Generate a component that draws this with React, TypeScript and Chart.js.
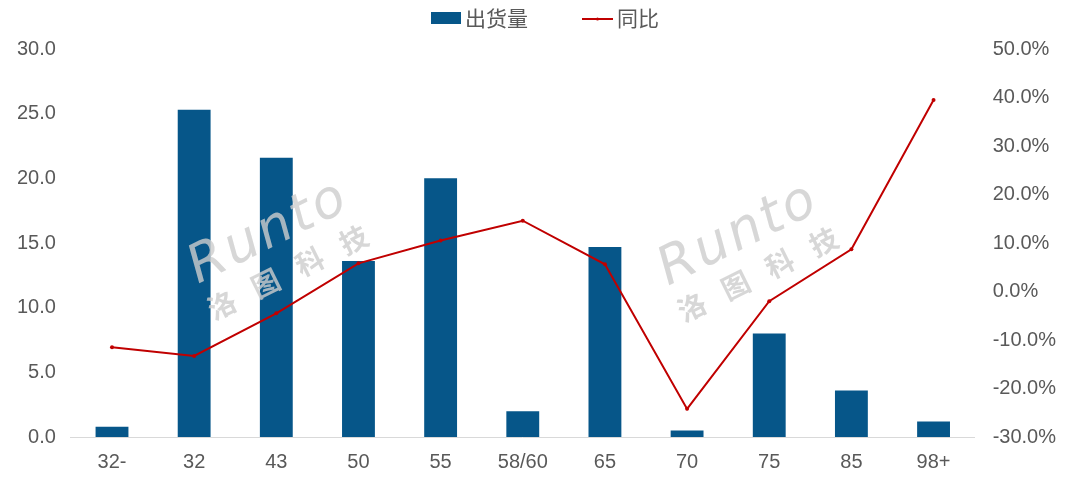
import React, { useEffect, useRef } from "react";
import { Chart, registerables } from "chart.js";

Chart.register(...registerables);

const categories = ["32-", "32", "43", "50", "55", "58/60", "65", "70", "75", "85", "98+"];
const shipments = [0.8, 25.3, 21.6, 13.6, 20.0, 2.0, 14.7, 0.5, 8.0, 3.6, 1.2];
const yoy = [-11.5, -13.3, -4.5, 5.8, 10.5, 14.6, 5.6, -24.2, -2.0, 8.7, 39.5];
const seriesNames = ["出货量", "同比"];

const FONT = '"Liberation Sans", Arial, "Noto Sans CJK SC", sans-serif';
const CJK = '"Noto Sans CJK SC", "Liberation Sans", sans-serif';
const TEXT = "#595959";
const BAR = "#065689";
const LINE = "#C00000";

const watermark = {
  id: "watermark",
  afterDatasetDraw(chart: any, args: any) {
    if (args.index !== 0) return;
    const ctx = chart.ctx;
    const spots = [
      { x: 198, y: 284 },
      { x: 668, y: 286 },
    ];
    ctx.save();
    ctx.fillStyle = "rgba(205,205,205,0.8)";
    for (const s of spots) {
      ctx.save();
      ctx.translate(s.x, s.y);
      ctx.rotate(-0.46);
      ctx.font = `italic 53px "DejaVu Sans", sans-serif`;
      (ctx as any).letterSpacing = "3px";
      ctx.textBaseline = "alphabetic";
      ctx.textAlign = "left";
      ctx.fillText("Runto", 0, 0);
      (ctx as any).letterSpacing = "0px";
      ctx.font = `bold 28px "Noto Sans CJK SC", sans-serif`;
      const chars = ["洛", "图", "科", "技"];
      chars.forEach((c, i) => ctx.fillText(c, -2 + i * 49, 40));
      ctx.restore();
    }
    ctx.restore();
  },
};

const customLegend = {
  id: "customLegend",
  afterDraw(chart: any) {
    const ctx = chart.ctx;
    const ds = chart.data.datasets;
    const cy = 18;
    ctx.save();
    ctx.font = `21px ${CJK}`;
    ctx.fillStyle = TEXT;
    ctx.textBaseline = "middle";
    ctx.textAlign = "left";
    let x = 431;
    ctx.fillStyle = BAR;
    ctx.fillRect(x, cy - 6, 30, 12);
    ctx.fillStyle = TEXT;
    ctx.fillText(ds[0].label, x + 34, cy);
    x = 582;
    ctx.strokeStyle = LINE;
    ctx.lineWidth = 2;
    ctx.beginPath();
    ctx.moveTo(x, cy + 1);
    ctx.lineTo(x + 31, cy + 1);
    ctx.stroke();
    ctx.fillStyle = LINE;
    ctx.beginPath();
    ctx.arc(x + 15.5, cy + 1, 1.5, 0, Math.PI * 2);
    ctx.fill();
    ctx.fillStyle = TEXT;
    ctx.fillText(ds[1].label, x + 35, cy);
    ctx.restore();
  },
};

export default function App() {
  const ref = useRef<HTMLCanvasElement>(null);
  useEffect(() => {
    document.body.style.margin = "0";
    const chart = new Chart(ref.current!, {
      type: "bar",
      data: {
        labels: categories,
        datasets: [
          {
            type: "bar",
            label: seriesNames[0],
            data: shipments,
            backgroundColor: BAR,
            borderWidth: 0,
            yAxisID: "y",
            order: 2,
            categoryPercentage: 1,
            barPercentage: 0.4,
          } as any,
          {
            type: "line",
            label: seriesNames[1],
            data: yoy,
            borderColor: LINE,
            backgroundColor: LINE,
            borderWidth: 2,
            pointRadius: 2,
            pointHoverRadius: 2,
            pointBorderWidth: 0,
            tension: 0,
            yAxisID: "y1",
            order: 1,
          } as any,
        ],
      },
      options: {
        animation: false,
        responsive: false,
        maintainAspectRatio: false,
        layout: { padding: { left: 2, right: 6, top: 49, bottom: -5 } },
        plugins: {
          tooltip: { enabled: false },
          legend: { display: false },
        },
        scales: {
          x: {
            offset: true,
            grid: { display: false, drawTicks: false },
            border: { display: true, color: "#d9d9d9", width: 1 },
            ticks: { font: { family: FONT, size: 20, lineHeight: 1 }, color: TEXT, padding: 15 },
          },
          y: {
            position: "left",
            min: 0,
            max: 30,
            grid: { display: false, drawTicks: false },
            border: { display: false },
            ticks: {
              stepSize: 5,
              padding: 15,
              font: { family: FONT, size: 20 },
              color: TEXT,
              callback: (v: any) => Number(v).toFixed(1),
            },
          },
          y1: {
            position: "right",
            min: -30,
            max: 50,
            grid: { display: false, drawTicks: false },
            border: { display: false },
            ticks: {
              stepSize: 10,
              padding: 18,
              font: { family: FONT, size: 20 },
              color: TEXT,
              callback: (v: any) => Number(v).toFixed(1) + "%",
            },
          },
        },
      },
      plugins: [watermark, customLegend],
    });
    return () => chart.destroy();
  }, []);
  return (
    <div style={{ width: 1080, height: 482 }}>
      <canvas ref={ref} width={1080} height={482} style={{ display: "block" }} />
    </div>
  );
}
